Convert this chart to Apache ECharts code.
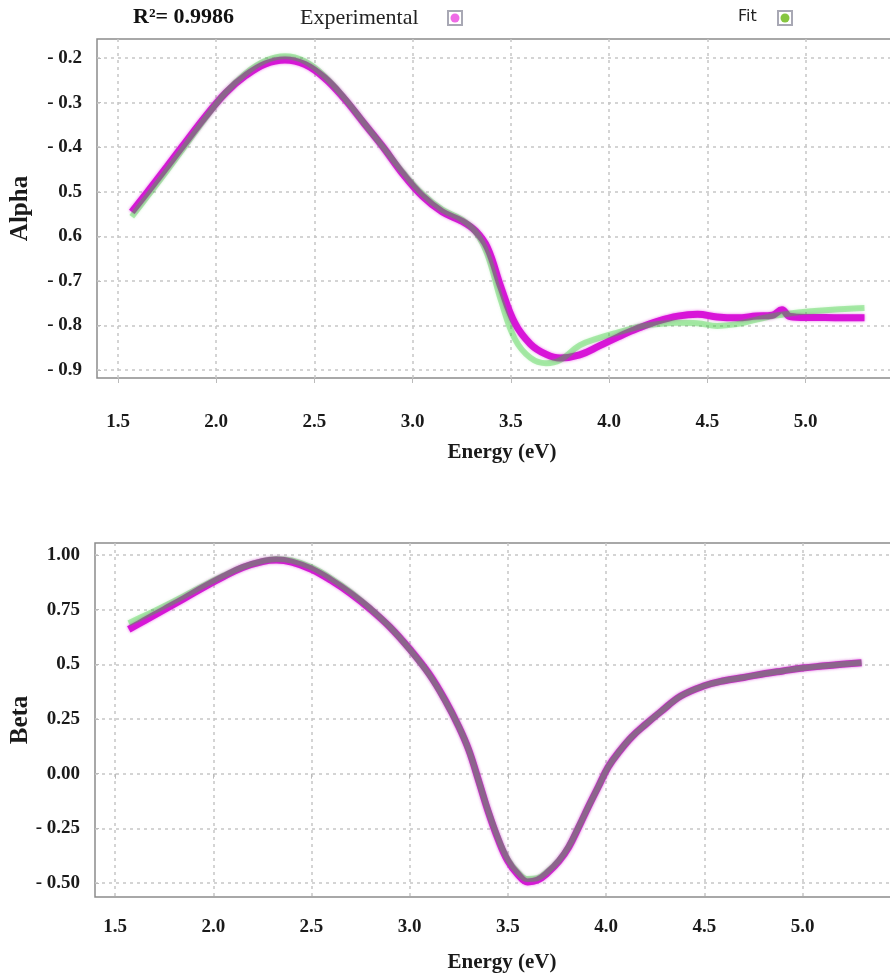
<!DOCTYPE html>
<html>
<head>
<meta charset="utf-8">
<title>Alpha / Beta fit</title>
<script src="https://cdn.jsdelivr.net/npm/echarts@6/dist/echarts.min.js"></script>
<style>
  html, body { margin: 0; padding: 0; background: #fff; }
  #main { width: 890px; height: 977px; }
</style>
</head>
<body>
<div id="main"></div>
<script>
// 能量轴 (eV)
const energyTicks = [1.5, 2.0, 2.5, 3.0, 3.5, 4.0, 4.5, 5.0];

// Alpha
const alphaEnergy = [1.57, 1.65, 1.75, 1.85, 1.95, 2.05, 2.15, 2.25, 2.35, 2.45, 2.55, 2.65, 2.75, 2.85, 2.95, 3.05, 3.15, 3.25, 3.32, 3.38, 3.45, 3.52, 3.60, 3.68, 3.75, 3.85, 3.95, 4.05, 4.15, 4.25, 4.35, 4.45, 4.55, 4.65, 4.75, 4.83, 4.88, 4.92, 5.00, 5.10, 5.20, 5.30];
const alphaExperimental = [-0.545, -0.500, -0.443, -0.385, -0.328, -0.277, -0.239, -0.213, -0.204, -0.214, -0.244, -0.290, -0.345, -0.400, -0.460, -0.510, -0.545, -0.566, -0.588, -0.625, -0.715, -0.795, -0.842, -0.865, -0.873, -0.866, -0.846, -0.825, -0.806, -0.790, -0.779, -0.775, -0.781, -0.783, -0.779, -0.777, -0.765, -0.780, -0.782, -0.782, -0.783, -0.783];
const alphaFit = [-0.556, -0.510, -0.452, -0.392, -0.332, -0.276, -0.234, -0.206, -0.196, -0.207, -0.240, -0.288, -0.344, -0.400, -0.456, -0.505, -0.540, -0.562, -0.590, -0.640, -0.745, -0.830, -0.873, -0.885, -0.878, -0.845, -0.828, -0.815, -0.803, -0.797, -0.794, -0.795, -0.801, -0.797, -0.787, -0.779, -0.776, -0.773, -0.769, -0.766, -0.763, -0.761];
const alphaTicks = [-0.9, -0.8, -0.7, -0.6, -0.5, -0.4, -0.3, -0.2];
const alphaTickLabels = ['- 0.9', '- 0.8', '- 0.7', '0.6', '0.5', '- 0.4', '- 0.3', '- 0.2'];

// Beta
const betaEnergy = [1.57, 1.65, 1.75, 1.85, 1.95, 2.05, 2.15, 2.25, 2.32, 2.40, 2.50, 2.60, 2.70, 2.80, 2.90, 3.00, 3.10, 3.18, 3.25, 3.30, 3.35, 3.40, 3.45, 3.50, 3.55, 3.60, 3.65, 3.70, 3.76, 3.81, 3.86, 3.91, 3.96, 4.01, 4.07, 4.13, 4.20, 4.28, 4.38, 4.50, 4.60, 4.70, 4.81, 4.90, 5.00, 5.10, 5.20, 5.30];
const betaExperimental = [0.660, 0.700, 0.750, 0.800, 0.852, 0.900, 0.943, 0.970, 0.977, 0.968, 0.935, 0.884, 0.823, 0.752, 0.670, 0.570, 0.455, 0.337, 0.215, 0.110, -0.030, -0.175, -0.300, -0.400, -0.460, -0.495, -0.487, -0.455, -0.400, -0.335, -0.245, -0.150, -0.060, 0.030, 0.105, 0.168, 0.225, 0.285, 0.355, 0.402, 0.425, 0.440, 0.458, 0.470, 0.483, 0.492, 0.500, 0.507];
const betaFit = [0.688, 0.722, 0.766, 0.812, 0.860, 0.905, 0.945, 0.972, 0.982, 0.975, 0.944, 0.893, 0.830, 0.755, 0.670, 0.568, 0.452, 0.335, 0.215, 0.110, -0.030, -0.172, -0.295, -0.392, -0.450, -0.482, -0.478, -0.448, -0.396, -0.332, -0.243, -0.150, -0.060, 0.030, 0.105, 0.168, 0.225, 0.285, 0.355, 0.402, 0.425, 0.440, 0.458, 0.470, 0.483, 0.492, 0.500, 0.507];
const betaTicks = [-0.5, -0.25, 0, 0.25, 0.5, 0.75, 1.0];
const betaTickLabels = ['- 0.50', '- 0.25', '0.00', '0.25', '0.5', '0.75', '1.00'];

const serif = '"Liberation Serif", "Times New Roman", serif';
const gridLine = { show: true, lineStyle: { color: '#c6c6c6', width: 1.5, type: [3, 4] } };

function pairs(xs, ys) {
  return xs.map((x, i) => [x, ys[i]]);
}

function xAxisFor(gridIndex, min, max, margin) {
  return {
    type: 'value',
    gridIndex: gridIndex,
    min: min,
    max: max,
    axisLine: { show: false },
    axisTick: { show: true, customValues: energyTicks, length: 5, lineStyle: { color: '#bbb' } },
    axisLabel: {
      customValues: energyTicks,
      margin: margin,
      formatter: (v) => v.toFixed(1),
      fontFamily: serif,
      fontWeight: 'bold',
      fontSize: 19,
      color: '#1a1a1a',
    },
    splitLine: gridLine,
  };
}

function yAxisFor(gridIndex, min, max, ticks, labels, name, gap) {
  return {
    type: 'value',
    gridIndex: gridIndex,
    min: min,
    max: max,
    name: name,
    nameLocation: 'middle',
    nameGap: gap,
    nameMoveOverlap: false,
    nameTextStyle: { fontFamily: serif, fontWeight: 'bold', fontSize: 25, color: '#1a1a1a' },
    axisLine: { show: false },
    axisTick: { show: true, inside: true, customValues: ticks, length: 4, lineStyle: { color: '#bbb' } },
    axisLabel: {
      customValues: ticks,
      margin: 15,
      formatter: (v) => {
        const i = ticks.findIndex((t) => Math.abs(t - v) < 1e-6);
        return i >= 0 ? labels[i] : '';
      },
      fontFamily: serif,
      fontWeight: 'bold',
      fontSize: 19,
      color: '#1a1a1a',
    },
    splitLine: gridLine,
  };
}

// 实验值在下，拟合值半透明叠在上面
function expSeries(idx, data) {
  return {
    name: 'Experimental',
    type: 'line',
    xAxisIndex: idx,
    yAxisIndex: idx,
    data: data,
    smooth: 0.4,
    showSymbol: false,
    z: 2,
    lineStyle: { color: '#d815d8', width: 7, shadowColor: 'rgba(221,17,221,0.6)', shadowBlur: 3 },
  };
}
function fitSeries(idx, data) {
  return {
    name: 'Fit',
    type: 'line',
    xAxisIndex: idx,
    yAxisIndex: idx,
    data: data,
    smooth: 0.4,
    showSymbol: false,
    z: 3,
    lineStyle: { color: '#28c428', width: 6, opacity: 0.34, shadowColor: 'rgba(60,220,60,0.5)', shadowBlur: 3 },
  };
}

const chart = echarts.init(document.getElementById('main'), null, { renderer: 'canvas' });

const option = {
  backgroundColor: '#ffffff',
  animation: false,
  grid: [
    { left: 97, top: 39, right: -2, bottom: 599, outerBoundsMode: 'none', show: true, borderColor: '#8c8c8c', borderWidth: 1.5 },
    { left: 95, top: 543, right: -2, bottom: 80, outerBoundsMode: 'none', show: true, borderColor: '#8c8c8c', borderWidth: 1.5 },
  ],
  xAxis: [
    xAxisFor(0, 1.393, 5.44, 35),
    xAxisFor(1, 1.398, 5.455, 21),
  ],
  yAxis: [
    yAxisFor(0, -0.918, -0.157, alphaTicks, alphaTickLabels, 'Alpha', 64),
    yAxisFor(1, -0.564, 1.055, betaTicks, betaTickLabels, 'Beta', 62),
  ],
  series: [
    expSeries(0, pairs(alphaEnergy, alphaExperimental)),
    fitSeries(0, pairs(alphaEnergy, alphaFit)),
    expSeries(1, pairs(betaEnergy, betaExperimental)),
    fitSeries(1, pairs(betaEnergy, betaFit)),
  ],
  graphic: [
    // 图例
    { type: 'text', left: 133, top: 6, style: { text: 'R\u00b2= 0.9986', font: 'bold 22px ' + serif, fill: '#111' } },
    { type: 'text', left: 300, top: 7, style: { text: 'Experimental', font: '22px ' + serif, fill: '#222' } },
    { type: 'rect', shape: { x: 448, y: 11, width: 14, height: 14 }, style: { fill: '#fff', stroke: '#a8a8b4', lineWidth: 2 } },
    { type: 'circle', shape: { cx: 455, cy: 18, r: 4.5 }, style: { fill: '#ef6ae6' } },
    { type: 'text', left: 738, top: 9, style: { text: 'Fit', font: '16px "DejaVu Sans", sans-serif', fill: '#222' } },
    { type: 'rect', shape: { x: 778, y: 11, width: 14, height: 14 }, style: { fill: '#fff', stroke: '#a8a8b4', lineWidth: 2 } },
    { type: 'circle', shape: { cx: 785, cy: 18, r: 4.5 }, style: { fill: '#86c640' } },
    // x 轴名称
    { type: 'text', x: 502, y: 453, style: { text: 'Energy (eV)', font: 'bold 21px ' + serif, fill: '#1a1a1a', align: 'center', verticalAlign: 'middle' } },
    { type: 'text', x: 502, y: 963, style: { text: 'Energy (eV)', font: 'bold 21px ' + serif, fill: '#1a1a1a', align: 'center', verticalAlign: 'middle' } },
  ],
};

chart.setOption(option);
</script>
</body>
</html>
